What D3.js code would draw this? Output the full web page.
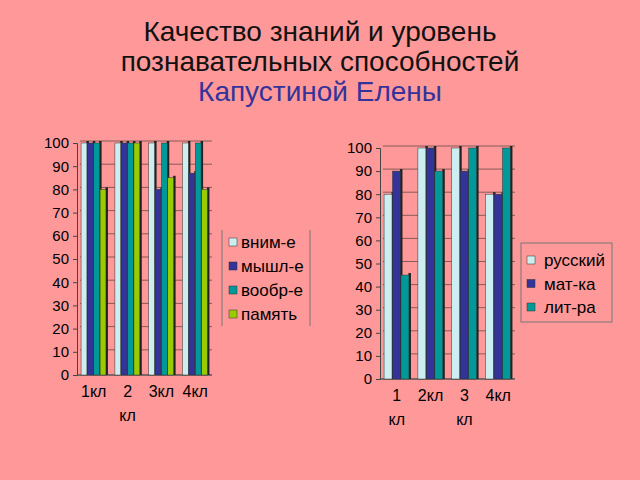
<!DOCTYPE html>
<html><head><meta charset="utf-8">
<script src="https://cdn.jsdelivr.net/npm/d3@7"></script>
<style>body{margin:0;background:#FF9999;} svg{display:block;}</style>
</head><body>
<svg id="c" width="640" height="480"></svg>
<script>
const titleLines = ["Качество знаний и уровень", "познавательных способностей", "Капустиной Елены"];

const categories1 = ["1кл", "2 кл", "3кл", "4кл"];
const series1Names = ["вним-е", "мышл-е", "вообр-е", "память"];
const vnim = [100, 100, 100, 100];
const myshl = [100, 100, 80, 87];
const voobr = [100, 100, 100, 100];
const pamyat = [80, 100, 85, 80];

const categories2 = ["1 кл", "2кл", "3 кл", "4кл"];
const series2Names = ["русский", "мат-ка", "лит-ра"];
const russkiy = [80, 100, 100, 80];
const matka = [90, 100, 90, 80];
const litra = [45, 90, 100, 100];

const yTicks = [0, 10, 20, 30, 40, 50, 60, 70, 80, 90, 100];
const colors1 = ["#CCEEF0", "#333399", "#009999", "#99CC00"];
const colors2 = ["#CCEEF0", "#333399", "#009999"];

const svg = d3.select("#c");
const font = "Liberation Sans, Arial, sans-serif";

svg.append("rect").attr("width", 640).attr("height", 480).attr("fill", "#FF9999");

const tt = svg.append("g");
titleLines.forEach((t, i) => {
  tt.append("text").attr("x", 320).attr("y", 41 + i * 30)
    .attr("text-anchor", "middle").attr("font-family", font).attr("font-size", 28)
    .attr("fill", i === 2 ? "#333399" : "#111").text(t);
});

function drawChart(cfg) {
  const { x0, x1, yTop, yBot, cats, series, colors, names, legend } = cfg;
  const g = svg.append("g");
  const y = d3.scaleLinear().domain([0, 100]).range([yBot, yTop]);
  const x = d3.scaleBand().domain(cats).range([x0, x1]).paddingInner(0.25).paddingOuter(0.12);
  const xs = d3.scaleBand().domain(d3.range(series.length)).range([0, x.bandwidth()]);

  // gridlines
  g.append("g").selectAll("line").data(yTicks.filter(d => d > 0)).join("line")
    .attr("x1", x0 + 3).attr("x2", x1).attr("y1", d => y(d) - 2).attr("y2", d => y(d) - 2)
    .attr("stroke", "#6b4a4a").attr("stroke-width", 0.8);
  // floor
  g.append("line").attr("x1", x0).attr("x2", x1).attr("y1", yBot).attr("y2", yBot)
    .attr("stroke", "#555").attr("stroke-width", 1.5);

  // y axis
  const ax = g.append("g").attr("transform", `translate(${x0},0)`)
    .call(d3.axisLeft(y).tickValues(yTicks).tickSize(4).tickPadding(4));
  ax.select(".domain").attr("stroke", "#444");
  ax.selectAll(".tick line").attr("stroke", "#444");
  ax.selectAll("text").attr("font-family", font).attr("font-size", 15).attr("fill", "#000");

  // bars
  series.forEach((vals, si) => {
    const bg = g.append("g");
    const w = xs.bandwidth();
    bg.selectAll("rect.side").data(vals).join("rect")
      .attr("x", (d, i) => x(cats[i]) + xs(si) + w - 1)
      .attr("y", d => y(d) - 2).attr("width", 2.5).attr("height", d => yBot - y(d) + 2)
      .attr("fill", "#222");
    bg.selectAll("rect.bar").data(vals).join("rect")
      .attr("x", (d, i) => x(cats[i]) + xs(si))
      .attr("y", d => y(d)).attr("width", w - 0.5).attr("height", d => yBot - y(d))
      .attr("fill", colors[si]).attr("stroke", "#333").attr("stroke-width", 0.5);
  });

  // x labels
  const lab = g.append("g");
  cats.forEach(c => {
    const parts = c.split(" ");
    parts.forEach((p, k) => {
      lab.append("text").attr("x", x(c) + x.bandwidth() / 2).attr("y", yBot + 22 + k * 24)
        .attr("text-anchor", "middle").attr("font-family", font).attr("font-size", 16)
        .attr("fill", "#000").text(p);
    });
  });

  // legend
  const L = g.append("g");
  if (legend.full) {
    L.append("rect").attr("x", legend.x).attr("y", legend.y).attr("width", legend.w).attr("height", legend.h)
      .attr("fill", "none").attr("stroke", "#777").attr("stroke-width", 1);
  } else {
    L.append("line").attr("x1", legend.x).attr("x2", legend.x).attr("y1", legend.y).attr("y2", legend.y + legend.h).attr("stroke", "#777");
    L.append("line").attr("x1", legend.x + legend.w).attr("x2", legend.x + legend.w).attr("y1", legend.y).attr("y2", legend.y + legend.h).attr("stroke", "#777");
  }
  names.forEach((n, i) => {
    const yy = legend.y0 + i * legend.step;
    L.append("rect").attr("x", legend.sx).attr("y", yy - 10).attr("width", 8).attr("height", 8)
      .attr("fill", colors[i]).attr("stroke", "#333").attr("stroke-width", 0.5);
    L.append("text").attr("x", legend.tx).attr("y", yy).attr("font-family", font)
      .attr("font-size", 17).attr("fill", "#000").text(n);
  });
}

drawChart({
  x0: 77, x1: 212, yTop: 143, yBot: 375, cats: categories1,
  series: [vnim, myshl, voobr, pamyat], colors: colors1, names: series1Names,
  legend: { x: 222, y: 230, w: 88, h: 96, y0: 248, step: 24, sx: 229, tx: 241, full: false }
});
drawChart({
  x0: 380, x1: 515, yTop: 148, yBot: 379, cats: categories2,
  series: [russkiy, matka, litra], colors: colors2, names: series2Names,
  legend: { x: 521, y: 243, w: 91, h: 79, y0: 266, step: 23.5, sx: 527, tx: 544, full: true }
});
</script>
</body></html>
